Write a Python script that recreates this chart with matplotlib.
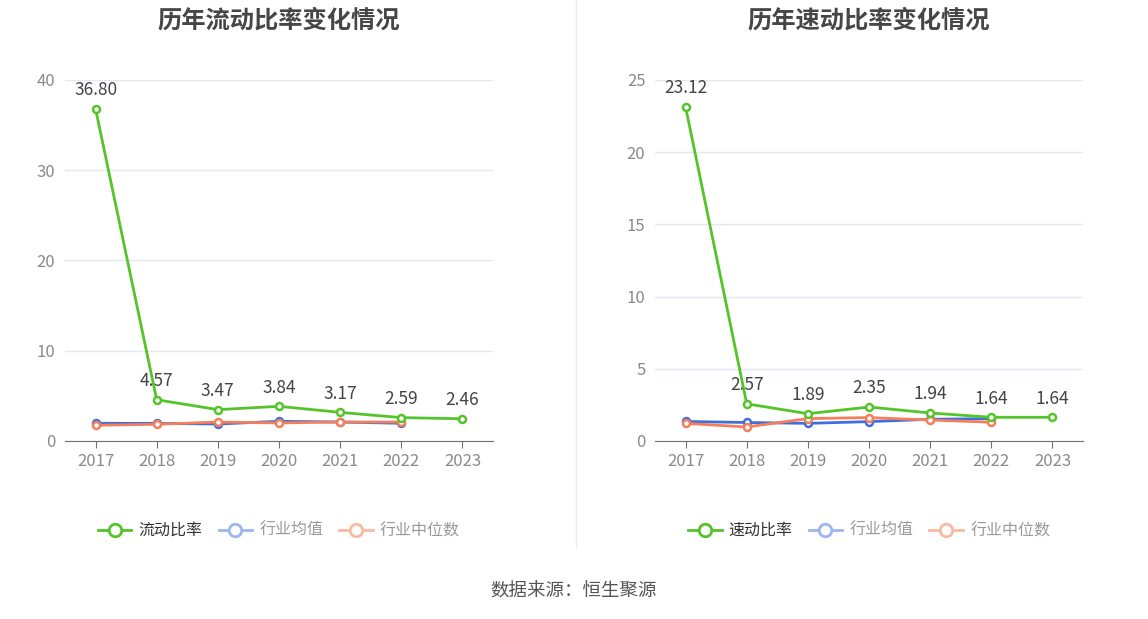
import matplotlib
matplotlib.use("Agg")
import matplotlib.pyplot as plt
from matplotlib.lines import Line2D

plt.rcParams['font.family'] = ['Noto Sans CJK SC', 'DejaVu Sans']

years = ["2017", "2018", "2019", "2020", "2021", "2022", "2023"]

# 流动比率
current_ratio = [36.80, 4.57, 3.47, 3.84, 3.17, 2.59, 2.46]
current_ind_mean = [1.96, 1.95, 1.88, 2.18, 2.10, 1.96]
current_ind_median = [1.74, 1.85, 2.10, 2.00, 2.10, 2.10]

# 速动比率
quick_ratio = [23.12, 2.57, 1.89, 2.35, 1.94, 1.64, 1.64]
quick_ind_mean = [1.35, 1.28, 1.22, 1.34, 1.50, 1.55]
quick_ind_median = [1.22, 0.97, 1.55, 1.62, 1.45, 1.30]

GREEN = "#55c42a"; BLUE = "#3f6fdc"; ORANGE = "#f57f5b"
BLUE_L = "#9db6f0"; ORANGE_L = "#f9b9a3"
GRID = "#e3e7f1"; AXIS = "#6e7079"; TICK = "#8a8a8a"


def panel(ax, title, name, main, mean, median, ymax, step):
    x = range(len(years))
    mk = dict(marker="o", markersize=5, markerfacecolor="white", markeredgewidth=1.8, lw=2)
    ax.plot(list(x)[:len(mean)], mean, color=BLUE, zorder=3, **mk)
    ax.plot(list(x)[:len(median)], median, color=ORANGE, zorder=4, **mk)
    ax.plot(list(x), main, color=GREEN, zorder=5, **mk)
    for i, v in enumerate(main):
        ax.annotate(f"{v:.2f}", (i, v), xytext=(0, 7), textcoords="offset points",
                    ha="center", va="bottom", fontsize=12.5, color="#444444")
    ax.set_xlim(-0.5, len(years) - 0.5)
    ax.set_ylim(0, ymax)
    ax.set_yticks(range(0, ymax + 1, step))
    ax.set_xticks(list(x))
    ax.set_xticklabels(years)
    ax.yaxis.grid(True, color=GRID, lw=1)
    ax.set_axisbelow(True)
    for s in ["top", "right", "left"]:
        ax.spines[s].set_visible(False)
    ax.spines["bottom"].set_color(AXIS)
    ax.tick_params(axis="y", length=0, labelsize=12, labelcolor=TICK, pad=7)
    ax.tick_params(axis="x", length=5, color=AXIS, labelsize=12, labelcolor=TICK, pad=4)
    ax.set_title(title, fontsize=17.5, fontweight="bold", color="#464646", pad=38)

    hk = dict(marker="o", markersize=9, markerfacecolor="white", markeredgewidth=2, lw=2)
    handles = [Line2D([], [], color=GREEN, **hk),
               Line2D([], [], color=BLUE_L, **hk),
               Line2D([], [], color=ORANGE_L, **hk)]
    leg = ax.legend(handles, [name, "行业均值", "行业中位数"], loc="upper center",
                    bbox_to_anchor=(0.5, -0.185), ncol=3, frameon=False, fontsize=11.5,
                    handlelength=2.1, columnspacing=1.0, handletextpad=0.45)
    for t, c in zip(leg.get_texts(), ["#333333", "#999999", "#999999"]):
        t.set_color(c)


fig = plt.figure(figsize=(11.48, 6.19), dpi=100)
ax1 = fig.add_axes([0.0566, 0.2876, 0.3728, 0.5832])
ax2 = fig.add_axes([0.5706, 0.2876, 0.3728, 0.5832])
panel(ax1, "历年流动比率变化情况", "流动比率", current_ratio, current_ind_mean, current_ind_median, 40, 10)
panel(ax2, "历年速动比率变化情况", "速动比率", quick_ratio, quick_ind_mean, quick_ind_median, 25, 5)

fig.add_artist(Line2D([0.502, 0.502], [0.115, 1.0], color="#eeeeee", lw=1))
fig.text(0.5, 0.044, "数据来源：恒生聚源", ha="center", va="center", fontsize=13.3, color="#555555")

fig.savefig("out.png", dpi=100)
